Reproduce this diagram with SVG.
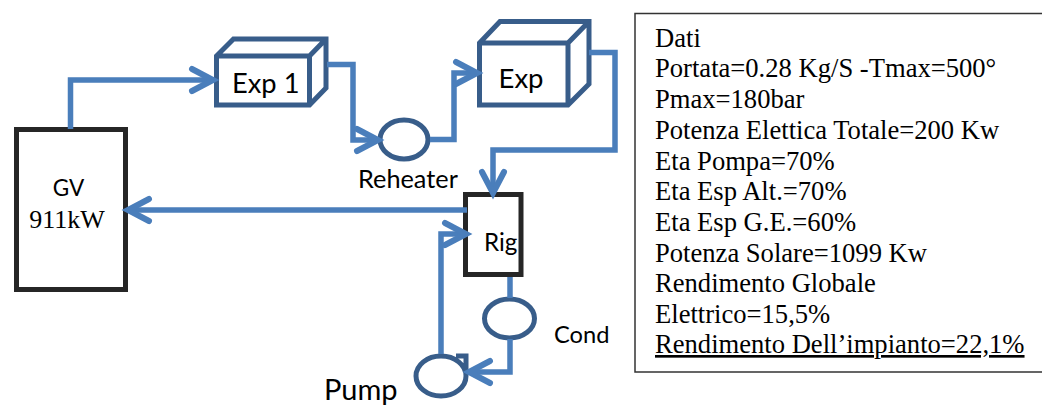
<svg xmlns="http://www.w3.org/2000/svg" width="1042" height="406" viewBox="0 0 1042 406">
<style>
.pipe{fill:none;stroke:#4a7ebb;stroke-width:5.5;stroke-linejoin:miter}
.arr{marker-end:url(#head)}
.cube{fill:#fff;stroke:#385d8a;stroke-width:5;stroke-linejoin:miter}
.eq{fill:#fff;stroke:#385d8a;stroke-width:5}
.dark{fill:#fff;stroke:#262626;stroke-width:5}
.sans{font-family:"Lato","Carlito","Liberation Sans",sans-serif;fill:#000}
.serif{font-family:"Liberation Serif","Times New Roman",serif;fill:#000}
.dati{font-size:26.6px}
</style>
<defs>
<marker id="head" markerUnits="userSpaceOnUse" markerWidth="40" markerHeight="40" refX="0" refY="0" viewBox="-30 -20 40 40" orient="auto" overflow="visible">
<path d="M-22,-11 L-1,0 L-22,11" fill="none" stroke="#4a7ebb" stroke-width="6" stroke-linecap="round" stroke-linejoin="miter"/>
</marker>
</defs>
<g id="nodes">
<g id="gv"><rect class="dark" x="16.500" y="129.500" width="109" height="160"/>
<text class="sans" x="68.500" y="196" font-size="22.500" text-anchor="middle">GV</text>
<text class="serif" x="67" y="228" font-size="26" text-anchor="middle">911kW</text></g>
<g id="exp1"><path class="cube" d="M216.500,105 V56 L233.500,39 H326 V88 L309.500,105 Z M216.500,56 H309.500 L326,39 M309.500,56 V105"/>
<text class="sans" x="232" y="92.500" font-size="27.300">Exp 1</text></g>
<g id="exp2"><path class="cube" d="M479.500,105 V43 L500,21.500 H589 V84 L568,105 Z M479.500,43 H568 L589,21.500 M568,43 V105"/>
<text class="sans" x="498.500" y="88" font-size="27.500">Exp</text></g>
<g id="reheater"><ellipse class="eq" cx="404" cy="139.500" rx="24" ry="19.500"/>
<text class="sans" x="358" y="188" font-size="25.300">Reheater</text></g>
<g id="rig"><rect class="dark" x="465.500" y="194.500" width="55.500" height="80"/>
<text class="sans" x="484" y="251" font-size="24.200">Rig</text></g>
<g id="cond"><ellipse class="eq" cx="509.500" cy="318.500" rx="25" ry="19.500"/>
<text class="sans" x="554" y="343" font-size="23.700">Cond</text></g>
<g id="pump"><path class="eq" d="M456,356 H466 V376 A25,20 0 1 1 441,356 A25,20 0 0 1 466,376"/>
<text class="sans" x="324" y="399.500" font-size="29">Pump</text></g>
<g id="dati"><path d="M1042,13.500 H635 V372 H1042" fill="none" stroke="#333" stroke-width="1.500"/>
<text class="serif dati" x="655" y="47">Dati</text>
<text class="serif dati" x="655" y="77">Portata=0.28 Kg/S -Tmax=500°</text>
<text class="serif dati" x="655" y="108">Pmax=180bar</text>
<text class="serif dati" x="655" y="139">Potenza Elettica Totale=200 Kw</text>
<text class="serif dati" x="655" y="170">Eta Pompa=70%</text>
<text class="serif dati" x="655" y="200">Eta Esp Alt.=70%</text>
<text class="serif dati" x="655" y="231">Eta Esp G.E.=60%</text>
<text class="serif dati" x="655" y="262">Potenza Solare=1099 Kw</text>
<text class="serif dati" x="655" y="292">Rendimento Globale</text>
<text class="serif dati" x="655" y="323">Elettrico=15,5%</text>
<text class="serif dati" x="655" y="353" text-decoration="underline">Rendimento Dell’impianto=22,1%</text></g>
</g>
<g id="connectors">
<path class="pipe arr" d="M70.500,129 V80 H214"/>
<path class="pipe arr" d="M327,64.500 H353 V140 H379"/>
<path class="pipe arr" d="M430,139.500 H454 V73 H478"/>
<path class="pipe arr" d="M589,52.500 H615 V150 H493 V194"/>
<path class="pipe arr" d="M467,210 H127"/>
<path class="pipe arr" d="M441,354 V234 H467"/>
<path class="pipe" d="M510,277 V298"/>
<path class="pipe arr" d="M510,339 V372 H468"/>
</g>
</svg>
